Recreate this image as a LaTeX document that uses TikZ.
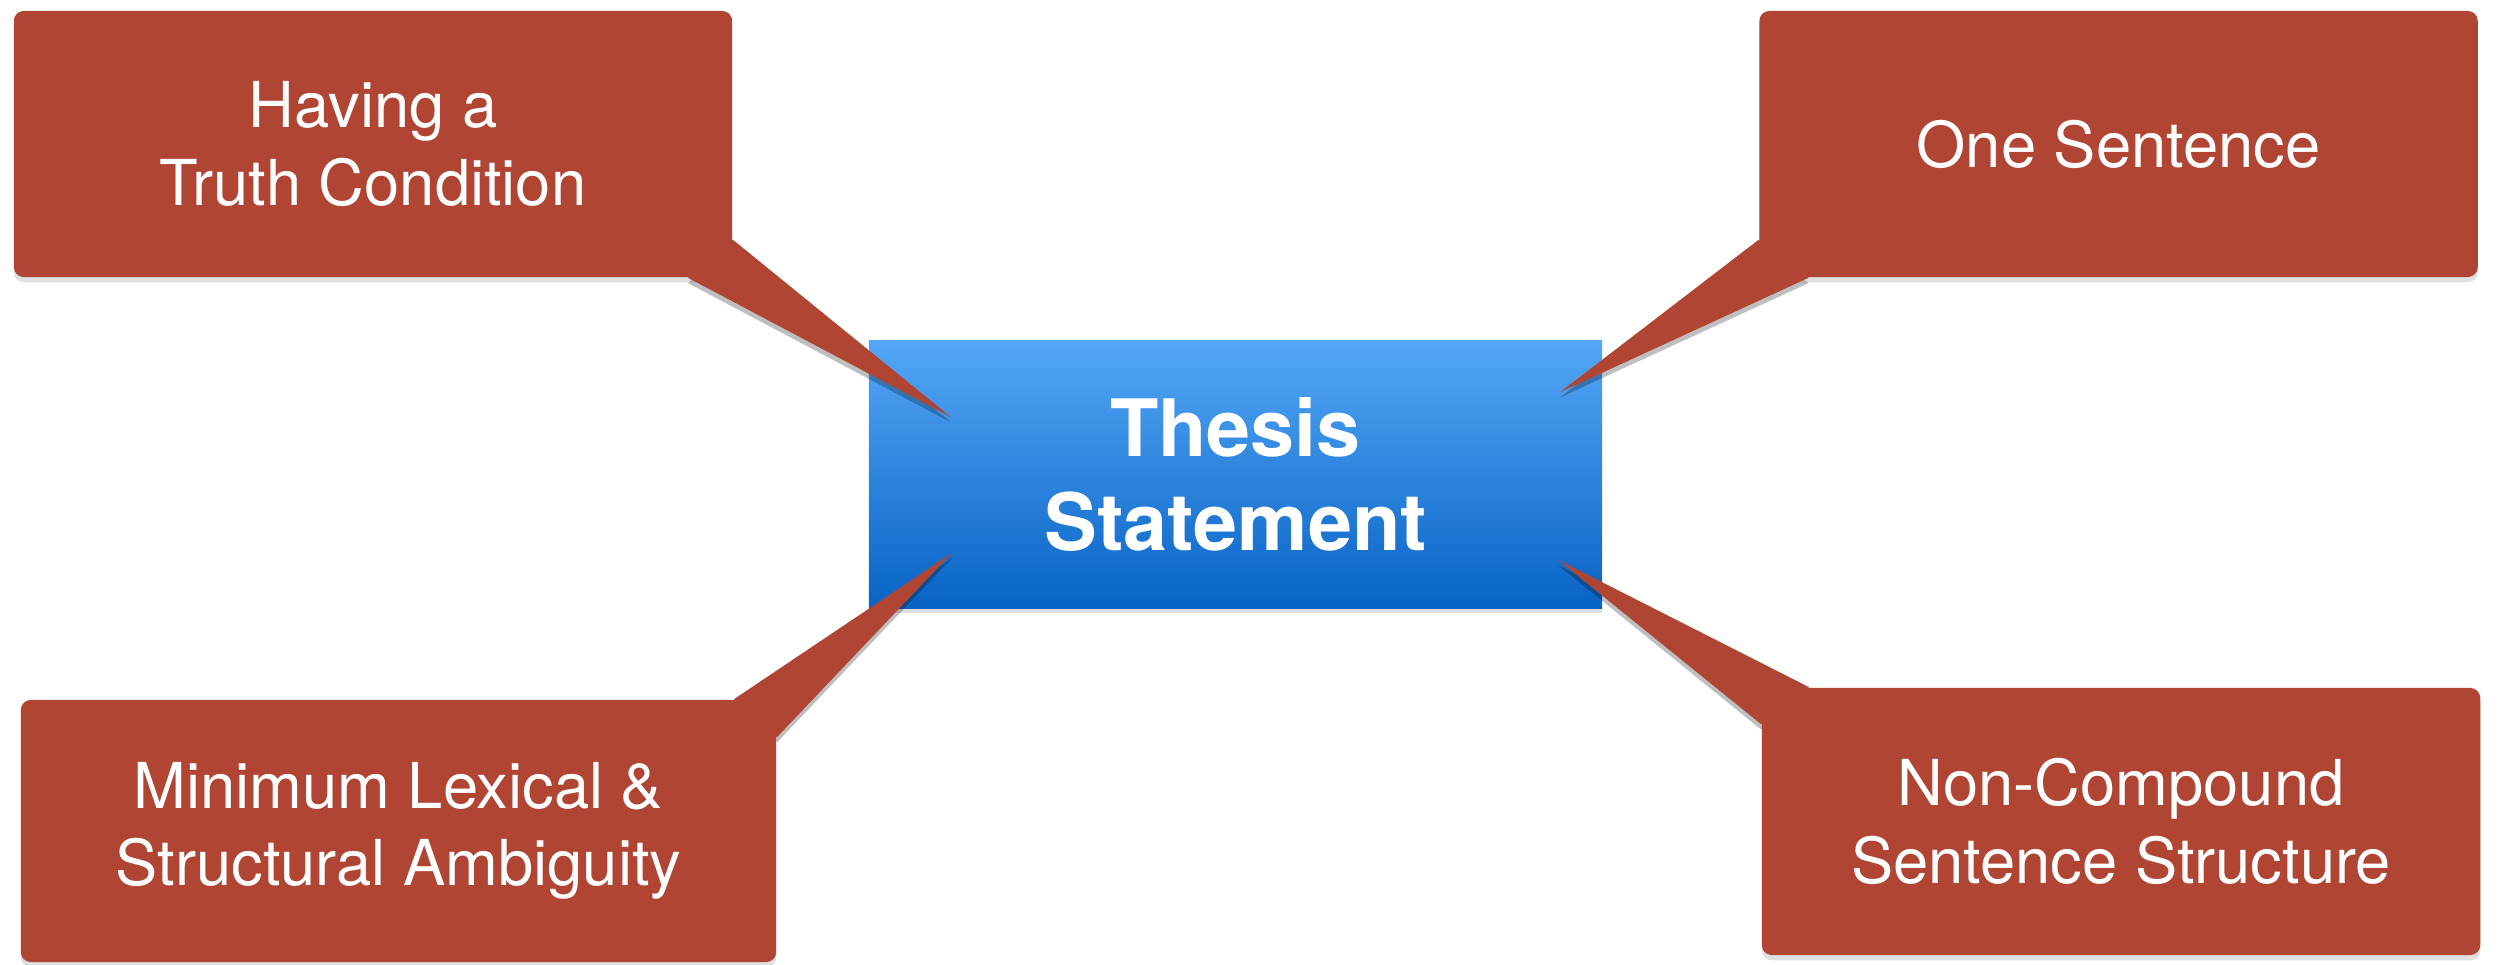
\documentclass[tikz,border=0pt]{standalone}
\usepackage{fontspec}
\setmainfont{TeX Gyre Heros}
\usetikzlibrary{calc,shadows}

\definecolor{calloutred}{RGB}{176,69,52}
\definecolor{thesistop}{RGB}{84,167,247}
\definecolor{thesisbot}{RGB}{8,99,196}

\pgfdeclarelayer{back}
\pgfdeclarelayer{mid}
\pgfsetlayers{back,mid,main}

\tikzset{
    callout/.style={rectangle, rounded corners=0.1cm, fill=calloutred, text=white,
        align=center, minimum width=7.18cm, minimum height=2.66cm,
        font=\fontsize{18}{22}\selectfont,
        drop shadow={shadow xshift=0pt, shadow yshift=-1.5pt, opacity=.25}},
    tail/.style={fill=calloutred},
    tailshade/.style={fill=black, opacity=.25, transform canvas={yshift=-1.5pt}},
    thesisbox/.style={rectangle, top color=thesistop, bottom color=thesisbot,
        text=white, align=center, minimum width=7.33cm, minimum height=2.67cm,
        font=\fontsize{22.5}{27}\selectfont\bfseries,
        drop shadow={shadow xshift=0pt, shadow yshift=-1.5pt, opacity=.25}}
}

\begin{document}
\begin{tikzpicture}[x=0.01cm, y=-0.01cm]
    \useasboundingbox (0,0) rectangle (2501,964);

    \begin{pgfonlayer}{back}
    \node[thesisbox] (thesis) at (1235.5,474.5) {Thesis\\Statement};
    \end{pgfonlayer}

    \node[callout] (truth)    at (373,144)    {Having a\\Truth Condition};
    \node[callout] (sentence) at (2118.5,144) {One Sentence};
    \node[callout, minimum width=7.55cm, minimum height=2.62cm]
                   (ambig)    at (398.5,831)  {Minimum Lexical \&\\Structural Ambiguity};
    \node[callout, minimum height=2.67cm]
                   (compound) at (2121,821.5) {Non-Compound\\Sentence Structure};

    \coordinate (tip1) at ($(thesis.north west)+(83,77)$);
    \coordinate (tip2) at ($(thesis.north east)+(-43,52)$);
    \coordinate (tip3) at ($(thesis.south west)+(84,-56)$);
    \coordinate (tip4) at ($(thesis.south east)+(-45,-49)$);

    % shadows of the tails
    \begin{pgfonlayer}{mid}
    \fill[tailshade] ($(truth.south east)+(0,-38)$) -- (tip1) -- ($(truth.south east)+(-45,0)$) -- cycle;
    \fill[tailshade] ($(sentence.south west)+(0,-38)$) -- (tip2) -- ($(sentence.south west)+(50,0)$) -- cycle;
    \fill[tailshade] ($(ambig.north east)+(-43,0)$) -- (tip3) -- ($(ambig.north east)+(0,38)$) -- cycle;
    \fill[tailshade] ($(compound.north west)+(48,0)$) -- (tip4) -- ($(compound.north west)+(0,37)$) -- cycle;
    \end{pgfonlayer}

    % tails
    \fill[tail] ($(truth.south east)+(0,-38)$) -- (tip1) -- ($(truth.south east)+(-45,0)$) -- ($(truth.south east)+(-20,-20)$) -- cycle;
    \fill[tail] ($(sentence.south west)+(0,-38)$) -- (tip2) -- ($(sentence.south west)+(50,0)$) -- ($(sentence.south west)+(20,-20)$) -- cycle;
    \fill[tail] ($(ambig.north east)+(-43,0)$) -- (tip3) -- ($(ambig.north east)+(0,38)$) -- ($(ambig.north east)+(-20,20)$) -- cycle;
    \fill[tail] ($(compound.north west)+(48,0)$) -- (tip4) -- ($(compound.north west)+(0,37)$) -- ($(compound.north west)+(20,20)$) -- cycle;

\end{tikzpicture}
\end{document}
